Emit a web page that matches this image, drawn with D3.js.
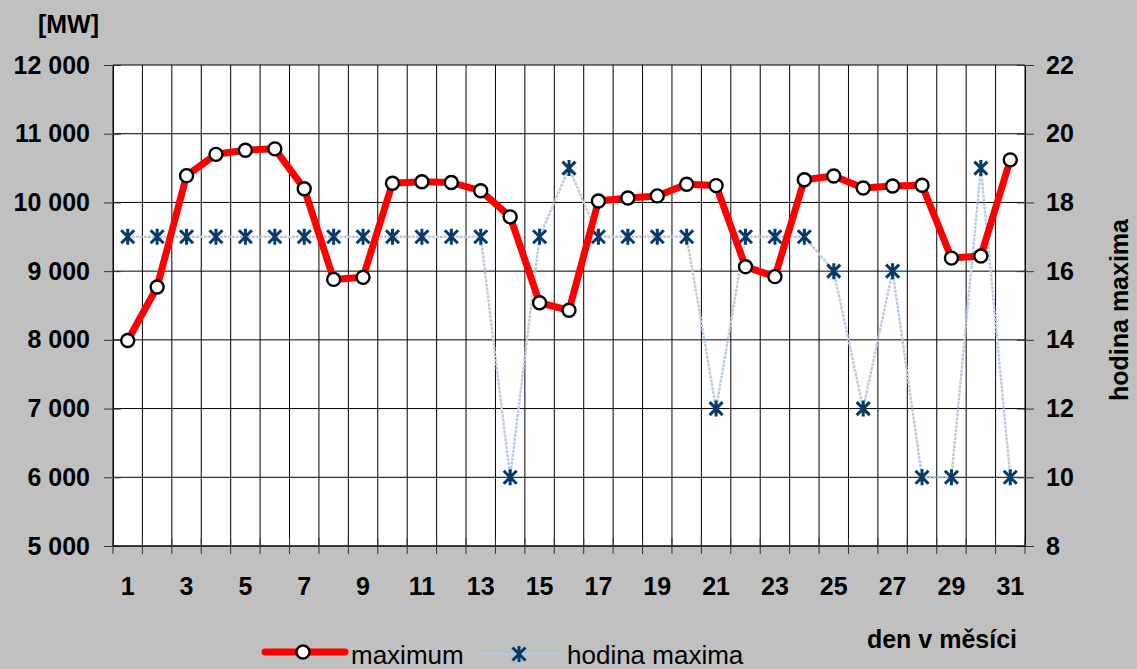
<!DOCTYPE html>
<html><head><meta charset="utf-8">
<script src="https://cdn.jsdelivr.net/npm/d3@7"></script>
<style>
html,body{margin:0;padding:0;background:#c0c0c0;}
svg{display:block;font-family:"Liberation Sans",Arial,sans-serif;}
</style></head>
<body>
<svg id="chart" width="1137" height="669"></svg>
<script>
const days = d3.range(1, 32);
const maximum = [7990, 8770, 10390, 10700, 10760, 10780, 10200, 8880, 8910, 10280,
  10300, 10290, 10170, 9790, 8540, 8430, 10020, 10065, 10095, 10265,
  10245, 9065, 8920, 10330, 10385, 10210, 10240, 10250, 9190, 9220, 10620];
const hodina = [17,17,17,17,17,17,17,17,17,17,17,17,17,10,17,19,17,17,17,17,12,17,17,17,16,12,16,10,10,19,10];
const leftTicks = [5000, 6000, 7000, 8000, 9000, 10000, 11000, 12000];
const rightTicks = [8, 10, 12, 14, 16, 18, 20, 22];
const xLabels = days.filter(d => d % 2 === 1);

const svg = d3.select("#chart");
const L = 113, R = 1025, T = 65, B = 546;

const x = d3.scaleBand().domain(days).range([L, R]).padding(0);
const yL = d3.scaleLinear().domain([5000, 12000]).range([B, T]);
const yR = d3.scaleLinear().domain([8, 22]).range([B, T]);
const cx = d => x(d) + x.bandwidth() / 2;

// plot area
svg.append("rect").attr("x", L).attr("y", T).attr("width", R - L).attr("height", B - T).attr("fill", "#fff");

// vertical grid
const bounds = d3.range(0, 32).map(i => L + i * x.bandwidth());
svg.append("g").selectAll("line").data(bounds).join("line")
  .attr("x1", d => d).attr("x2", d => d).attr("y1", T).attr("y2", B)
  .attr("stroke", "#000").attr("stroke-width", 1);
// horizontal grid
svg.append("g").selectAll("line").data(leftTicks).join("line")
  .attr("x1", L).attr("x2", R).attr("y1", d => yL(d)).attr("y2", d => yL(d))
  .attr("stroke", "#000").attr("stroke-width", 1);

// left axis
const gl = svg.append("g").attr("transform", `translate(${L},0)`)
  .call(d3.axisLeft(yL).tickValues(leftTicks).tickSize(9).tickPadding(14)
    .tickFormat(d => d3.format(",")(d).replace(",", " ")));
gl.select(".domain").attr("stroke", "#000");
gl.selectAll(".tick line").attr("x2", -9).attr("x1", 8).attr("stroke", "#333");
gl.selectAll("text").attr("font-size", 25).attr("font-weight", "bold").attr("fill", "#000")
  .attr("font-family", "Liberation Sans, Arial, sans-serif");

// right axis
const gr = svg.append("g").attr("transform", `translate(${R},0)`)
  .call(d3.axisRight(yR).tickValues(rightTicks).tickSize(9).tickPadding(12));
gr.select(".domain").attr("stroke", "#000");
gr.selectAll(".tick line").attr("x1", -8).attr("x2", 9).attr("stroke", "#333");
gr.selectAll("text").attr("font-size", 25).attr("font-weight", "bold").attr("fill", "#000")
  .attr("font-family", "Liberation Sans, Arial, sans-serif");

// bottom axis
svg.append("line").attr("x1", L).attr("x2", R).attr("y1", B).attr("y2", B).attr("stroke", "#000");
svg.append("g").selectAll("line").data(bounds).join("line")
  .attr("x1", d => d).attr("x2", d => d).attr("y1", B - 8).attr("y2", B + 8)
  .attr("stroke", "#333");
svg.append("g").selectAll("text").data(xLabels).join("text")
  .attr("x", d => cx(d)).attr("y", 595).attr("text-anchor", "middle")
  .attr("font-size", 25).attr("font-weight", "bold").text(d => d);

// hodina line
const lineR = d3.line().x((d, i) => cx(days[i])).y(d => yR(d));
svg.append("path").datum(hodina).attr("d", lineR).attr("fill", "none")
  .attr("stroke", "#bccbda").attr("stroke-width", 2.4).attr("stroke-dasharray", "3,1");

function star(g, px, py, s) {
  const h = s / 2;
  g.append("path")
    .attr("d", `M${px - h},${py - h}L${px + h},${py + h}M${px - h},${py + h}L${px + h},${py - h}M${px},${py - h - 1.5}L${px},${py + h + 1.5}`)
    .attr("stroke", "#053a6b").attr("stroke-width", 3).attr("fill", "none");
}
const gs = svg.append("g");
hodina.forEach((v, i) => star(gs, cx(days[i]), yR(v), 13));

// maximum line
const lineL = d3.line().x((d, i) => cx(days[i])).y(d => yL(d));
svg.append("path").datum(maximum).attr("d", lineL).attr("fill", "none")
  .attr("stroke", "#ff0000").attr("stroke-width", 7).attr("stroke-linejoin", "round");
svg.append("g").selectAll("circle").data(maximum).join("circle")
  .attr("cx", (d, i) => cx(days[i])).attr("cy", d => yL(d)).attr("r", 6.5)
  .attr("fill", "#fff").attr("stroke", "#000").attr("stroke-width", 2.4);

// titles
svg.append("text").attr("x", 99).attr("y", 33).attr("text-anchor", "end")
  .attr("font-size", 25).attr("font-weight", "bold").text("[MW]");
svg.append("text").attr("x", 1017).attr("y", 648).attr("text-anchor", "end")
  .attr("font-size", 25).attr("font-weight", "bold").text("den v měsíci");
svg.append("text").attr("transform", "translate(1128,310) rotate(-90)").attr("text-anchor", "middle")
  .attr("font-size", 25).attr("font-weight", "bold").text("hodina maxima");

// legend
svg.append("line").attr("x1", 265).attr("x2", 345).attr("y1", 652).attr("y2", 652)
  .attr("stroke", "#ff0000").attr("stroke-width", 7).attr("stroke-linecap", "round");
svg.append("circle").attr("cx", 303).attr("cy", 652).attr("r", 6.5)
  .attr("fill", "#fff").attr("stroke", "#000").attr("stroke-width", 2.4);
svg.append("text").attr("x", 351).attr("y", 664).attr("font-size", 26).text("maximum");
svg.append("line").attr("x1", 478).attr("x2", 561).attr("y1", 654).attr("y2", 654)
  .attr("stroke", "#bccbda").attr("stroke-width", 2.4).attr("stroke-dasharray", "3,1");
star(svg.append("g"), 519, 654, 13);
svg.append("text").attr("x", 567).attr("y", 664).attr("font-size", 26).text("hodina maxima");
</script>
</body></html>
